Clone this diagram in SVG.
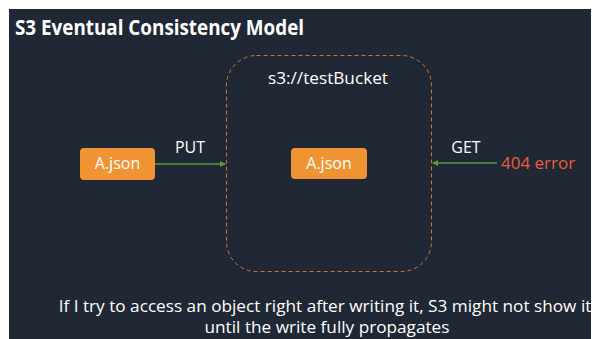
<svg xmlns="http://www.w3.org/2000/svg" width="593" height="339" viewBox="0 0 593 339">
<defs>
<style>
.t{font-family:"Open Sans","Noto Sans","Liberation Sans",sans-serif;fill:#ffffff}
.node{fill:#f09433}
.lbl{font-family:"Open Sans","Noto Sans","Liberation Sans",sans-serif;font-size:16px;fill:#ffffff;text-anchor:middle}
.cap{font-family:"Open Sans","Noto Sans","Liberation Sans",sans-serif;font-size:17.2px;fill:#ffffff;text-anchor:middle}
.edge{stroke:#5c9a3a;stroke-width:1.5;fill:none}
</style>
<marker id="ah" viewBox="0 0 6 6" refX="5" refY="3" markerWidth="4" markerHeight="4" orient="auto">
<path d="M0,0 L6,3 L0,6 Z" fill="#5c9a3a"/>
</marker>
</defs>
<rect x="0" y="0" width="593" height="339" fill="#ffffff"/>
<rect x="9" y="9" width="582" height="330" fill="#1f2834"/>
<text class="t" x="15" y="35" font-size="21" font-weight="bold" textLength="289" lengthAdjust="spacingAndGlyphs">S3 Eventual Consistency Model</text>
<g id="bucket">
<rect x="226.5" y="55.5" width="205" height="216" rx="30" fill="none" stroke="#c47a35" stroke-width="1" stroke-dasharray="4,3"/>
<text class="cap" x="328" y="84">s3://testBucket</text>
</g>
<g id="connectors">
<line class="edge" x1="155" y1="164" x2="225" y2="164" marker-end="url(#ah)"/>
<text class="lbl" x="190" y="153">PUT</text>
<line class="edge" x1="497" y1="163" x2="433" y2="163" marker-end="url(#ah)"/>
<text class="lbl" x="466" y="153">GET</text>
</g>
<g id="client">
<rect class="node" x="80" y="148" width="75" height="32" rx="4"/>
<text class="lbl" x="117.5" y="169">A.json</text>
</g>
<g id="object">
<rect class="node" x="291" y="148" width="76" height="31" rx="4"/>
<text class="lbl" x="329" y="169">A.json</text>
</g>
<g id="error">
<text class="t" x="501" y="169" font-size="17" style="fill:#ec5a3c">404 error</text>
</g>
<text class="cap" x="325" y="312">If I try to access an object right after writing it, S3 might not show it</text>
<text class="cap" x="327" y="333">until the write fully propagates</text>
</svg>
